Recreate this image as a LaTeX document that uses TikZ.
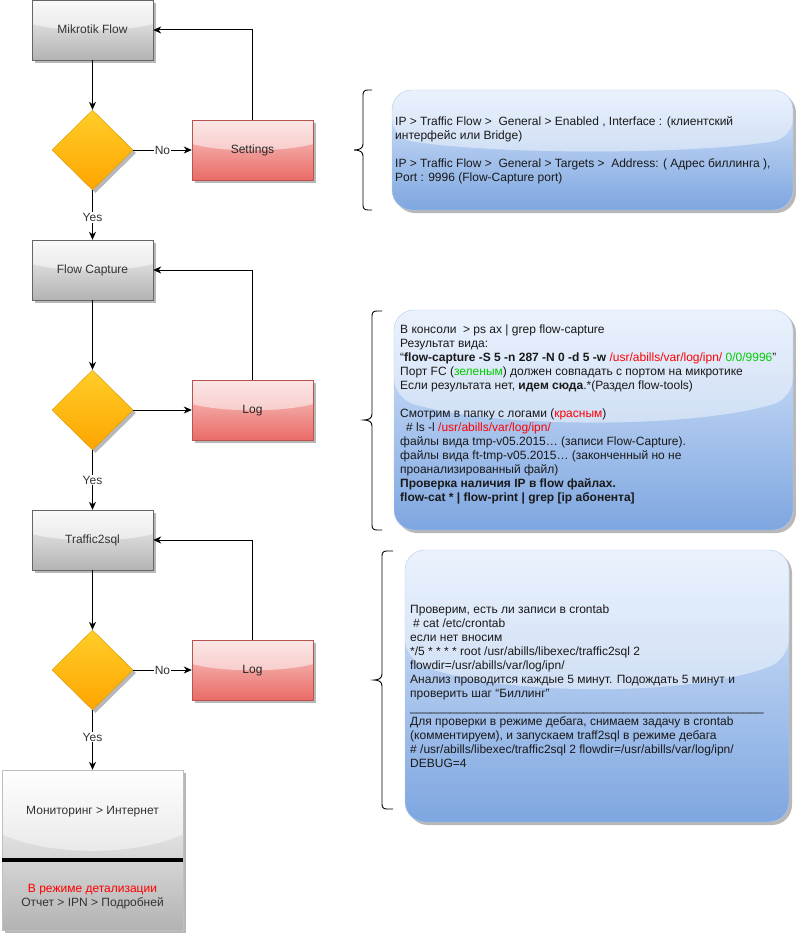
\documentclass[tikz,border=0pt]{standalone}
\usepackage{fontspec}
\setmainfont{Liberation Sans}
\usetikzlibrary{shapes.geometric,shadows,arrows.meta,calc}
\definecolor{txt}{HTML}{333333}
\definecolor{gdraw}{HTML}{666666}
\definecolor{gtop}{HTML}{F5F5F5}
\definecolor{gbot}{HTML}{B3B3B3}
\definecolor{rdraw}{HTML}{B85450}
\definecolor{rtop}{HTML}{F8CECC}
\definecolor{rbot}{HTML}{EA6B66}
\definecolor{ddraw}{HTML}{D79B00}
\definecolor{dtop}{HTML}{FFCD28}
\definecolor{dbot}{HTML}{FFA500}
\definecolor{ndraw}{HTML}{B7CCEA}
\definecolor{ntop}{HTML}{DAE8FC}
\definecolor{nbot}{HTML}{7EA6E0}
\definecolor{redtxt}{HTML}{FF0000}
\definecolor{grntxt}{HTML}{00CC00}
\begin{document}
\begin{tikzpicture}[x=1pt,y=-1pt,
  every node/.style={font=\fontsize{12}{14}\selectfont},
  shad/.style={drop shadow={shadow xshift=3pt,shadow yshift=-3pt,fill=black,opacity=0.28}},
  glass/.style={path picture={
    \fill[white,fill opacity=#1] let \p1=(path picture bounding box.north west), \p2=(path picture bounding box.south east) in
     (\x1,\y1) -- (\x2,\y1) -- (\x2,{\y1+0.40*(\y2-\y1)})
     .. controls ({\x2-0.25*(\x2-\x1)},{\y1+0.54*(\y2-\y1)}) and ({\x1+0.25*(\x2-\x1)},{\y1+0.54*(\y2-\y1)})
     .. (\x1,{\y1+0.40*(\y2-\y1)}) -- cycle;}},
  glass/.default=0.5,
  boxlabel/.style={text height=8.6pt,text depth=1.2pt},
  graybox/.style={draw=gdraw,top color=gtop,bottom color=gbot,minimum width=121pt,minimum height=60pt,inner sep=0pt,text=txt,boxlabel,shad,glass},
  redbox/.style={draw=rdraw,top color=rtop,bottom color=rbot,minimum width=121pt,minimum height=60pt,inner sep=0pt,text=black!85,boxlabel,shad,glass},
  decision/.style={diamond,draw=ddraw,top color=dtop,bottom color=dbot,minimum width=81pt,minimum height=80pt,inner sep=0pt,shad},
  notebox/.style={draw=ndraw,rounded corners=20pt,top color=ntop,bottom color=nbot,inner sep=0pt,shad,glass=0.45},
  notetext/.style={anchor=west,align=left,inner sep=0pt,text=black!90},
  arr/.style={draw=black,line width=1pt,-{Stealth[length=8pt,width=7pt,inset=2.5pt]}},
  lbl/.style={fill=white,inner sep=1pt,text=txt},
  bracel/.style={draw=black,line width=0.9pt}
]
\useasboundingbox (0,0) rectangle (795,934);

% ---------- left flow ----------
\node[graybox] (mik) at (92.5,30) {Mikrotik Flow};
\node[decision] (d1) at (92.5,150) {};
\node[redbox] (set) at (252.5,150) {Settings};
\node[graybox] (fc) at (92.5,270) {Flow Capture};
\node[decision] (d2) at (92.5,410) {};
\node[redbox] (log1) at (252.5,410) {Log};
\node[graybox] (t2s) at (92.5,540) {Traffic2sql};
\node[decision] (d3) at (92.5,670) {};
\node[redbox] (log2) at (252.5,670) {Log};

\node[draw=black!25,top color=white,bottom color=gbot,minimum width=181pt,minimum height=160pt,inner sep=0pt,shad,glass=0.45] (mon) at (92.5,850) {};
\draw[line width=3.5pt] (mon.west |- 0,860) -- (mon.east |- 0,860);
\node[text=txt] (montop) at (92.5,812) {Мониторинг > Интернет};
\node[align=center,inner sep=0pt,text=txt] (monbot) at (92.5,897) {\textcolor{redtxt}{В режиме детализации}\\Отчет > IPN > Подробней};

\draw[arr] (mik.south) -- (d1.north);
\draw[arr] (d1.east) -- node[lbl]{No} (set.west);
\draw[arr] (set.north) |- (mik.east);
\draw[arr] (d1.south) -- node[lbl,pos=0.55]{Yes} (fc.north);

\draw[arr] (fc.south) -- (d2.north);
\draw[arr] (d2.east) -- (log1.west);
\draw[arr] (log1.north) |- (fc.east);
\draw[arr] (d2.south) -- node[lbl]{Yes} (t2s.north);

\draw[arr] (t2s.south) -- (d3.north);
\draw[arr] (d3.east) -- node[lbl]{No} (log2.west);
\draw[arr] (log2.north) |- (t2s.east);
\draw[arr] (d3.south) -- node[lbl,pos=0.45]{Yes} (mon.north);

% ---------- notes ----------
\node[notebox,minimum width=401pt,minimum height=120pt] (n1) at (592.5,150) {};
\node[notetext] (t1) at (395,150) {IP > Traffic Flow > \ General > Enabled , Interface : (клиентский\\
интерфейс или Bridge)\\
~\\
IP > Traffic Flow > \ General > Targets > \ Address: ( Адрес биллинга ),\\
Port : 9996 (Flow-Capture port)};

\node[notebox,minimum width=399pt,minimum height=220pt] (n2) at (593.5,420) {};
\node[notetext] (t2) at (400,414) {В консоли \ > ps ax | grep flow-capture\\
Результат вида:\\
“\textbf{flow-capture -S 5 -n 287 -N 0 -d 5 -w} \textcolor{redtxt}{/usr/abills/var/log/ipn/} \textcolor{grntxt}{0/0/9996}”\\
Порт FC (\textcolor{grntxt}{зеленым}) должен совпадать с портом на микротике\\
Если результата нет, \textbf{идем сюда}.*(Раздел flow-tools)\\
~\\
Смотрим в папку с логами (\textcolor{redtxt}{красным})\\
\hspace*{6pt}\# ls -l \textcolor{redtxt}{/usr/abills/var/log/ipn/}\\
файлы вида tmp-v05.2015… (записи Flow-Capture).\\
файлы вида ft-tmp-v05.2015… (законченный но не\\
проанализированный файл)\\
\textbf{Проверка наличия IP в flow файлах.}\\
\textbf{flow-cat * | flow-print | grep [ip абонента]}};

\node[notebox,minimum width=384pt,minimum height=272pt] (n3) at (597,686) {};
\node[notetext] (t3) at (410,686) {Проверим, есть ли записи в crontab\\
\hspace*{3pt}\# cat /etc/crontab\\
если нет вносим\\
{}*/5 * * * * root /usr/abills/libexec/traffic2sql 2\\
flowdir=/usr/abills/var/log/ipn/\\
Анализ проводится каждые 5 минут. Подождать 5 минут и\\
проверить шаг “Биллинг”\\
\_\_\_\_\_\_\_\_\_\_\_\_\_\_\_\_\_\_\_\_\_\_\_\_\_\_\_\_\_\_\_\_\_\_\_\_\_\_\_\_\_\_\_\_\_\_\_\_\_\_\_\_\_\\
Для проверки в режиме дебага, снимаем задачу в crontab\\
(комментируем), и запускаем traff2sql в режиме дебага\\
\# /usr/abills/libexec/traffic2sql 2 flowdir=/usr/abills/var/log/ipn/\\
DEBUG=4};

% ---------- braces ----------
\draw[bracel] (372,90) -- (368,90) .. controls (364.5,90) and (363,91.5) .. (363,95) -- (363,144)
  .. controls (363,148) and (360,150) .. (354,150) .. controls (360,150) and (363,152) .. (363,156)
  -- (363,205) .. controls (363,208.5) and (364.5,210) .. (368,210) -- (372,210);
\draw[bracel] (382,311) -- (377,311) .. controls (373.5,311) and (372,312.5) .. (372,316) -- (372,414)
  .. controls (372,418) and (369,420) .. (364,420) .. controls (369,420) and (372,422) .. (372,426)
  -- (372,525) .. controls (372,528.5) and (373.5,530) .. (377,530) -- (382,530);
\draw[bracel] (393,551) -- (387,551) .. controls (383.5,551) and (382,552.5) .. (382,556) -- (382,674)
  .. controls (382,678) and (379,680) .. (374,680) .. controls (379,680) and (382,682) .. (382,686)
  -- (382,804) .. controls (382,807.5) and (383.5,809) .. (387,809) -- (393,809);
\end{tikzpicture}
\end{document}
